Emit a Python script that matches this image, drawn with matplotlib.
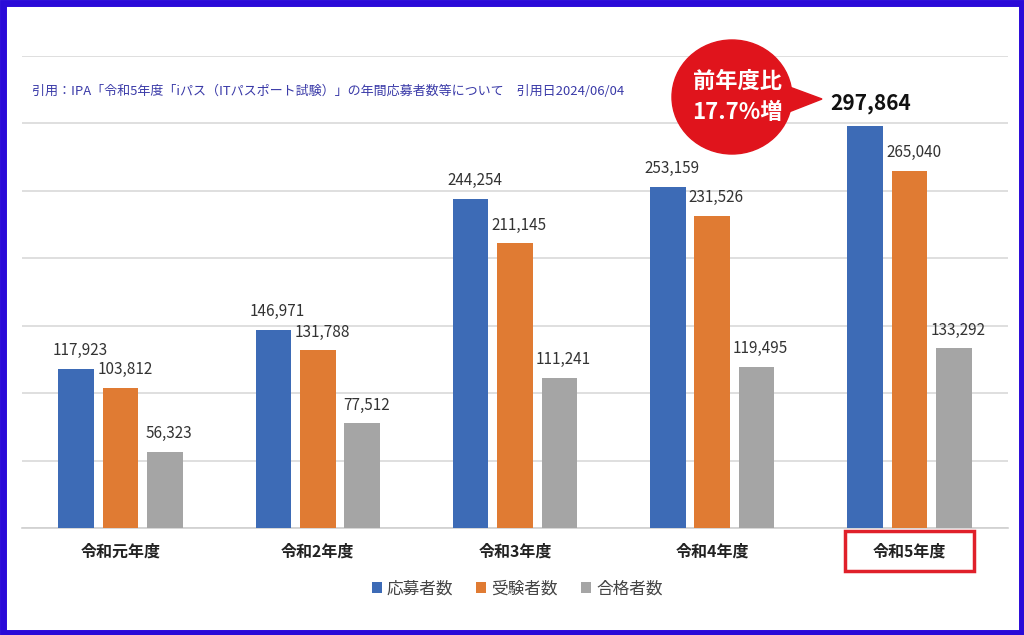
import matplotlib.pyplot as plt
import numpy as np
from matplotlib.patches import Ellipse, Polygon, Rectangle

plt.rcParams['font.family'] = ['Noto Sans CJK JP', 'DejaVu Sans']

# データ
years = ['令和元年度', '令和2年度', '令和3年度', '令和4年度', '令和5年度']
applicants = [117923, 146971, 244254, 253159, 297864]
examinees = [103812, 131788, 211145, 231526, 265040]
passed = [56323, 77512, 111241, 119495, 133292]
series_names = ['応募者数', '受験者数', '合格者数']
colors = ['#3d6bb6', '#e07b33', '#a5a5a5']
citation = '引用：IPA「令和5年度「iパス（ITパスポート試験）」の年間応募者数等について　引用日2024/06/04'
badge_text = '前年度比\n17.7%増'

fig = plt.figure(figsize=(10.24, 6.35), dpi=100)
ax = fig.add_axes([22 / 1024, 107 / 635, 986 / 1024, 472 / 635])

x = np.arange(len(years))
width = 0.18
step = 0.225
all_series = [applicants, examinees, passed]

for i, (vals, name, c) in enumerate(zip(all_series, series_names, colors)):
    pos = x + (i - 1) * step
    bars = ax.bar(pos, vals, width, color=c, label=name, zorder=3)
    for j, (b, v) in enumerate(zip(bars, vals)):
        # 令和5年度の応募者数だけ強調
        if i == 0 and j == len(years) - 1:
            ax.annotate(f'{v:,}', (b.get_x() + b.get_width() / 2, v),
                        xytext=(4, 9), textcoords='offset points',
                        ha='center', va='bottom', fontsize=15, fontweight='bold',
                        color='#111111')
        else:
            ax.annotate(f'{v:,}', (b.get_x() + b.get_width() / 2, v),
                        xytext=(3, 7), textcoords='offset points',
                        ha='center', va='bottom', fontsize=11, color='#333333')

ax.set_xlim(-0.5, len(years) - 0.5)
ax.set_ylim(0, 350000)
ax.set_yticks(np.arange(0, 350001, 50000))
ax.yaxis.grid(True, color='#d9d9d9', linewidth=1.2, zorder=0)
ax.tick_params(axis='y', length=0, labelleft=False)
ax.set_xticks(x)
ax.set_xticklabels(years, fontsize=11.5, fontweight='bold', color='#222222')
ax.tick_params(axis='x', length=0, pad=11)
for s in ['top', 'right', 'left']:
    ax.spines[s].set_visible(False)
ax.spines['bottom'].set_color('#d0d0d0')
ax.spines['bottom'].set_linewidth(1.2)

leg = fig.legend(loc='center', bbox_to_anchor=(0.505, (635 - 589) / 635), ncol=3,
                 frameon=False, fontsize=12, handlelength=0.6, handleheight=0.6,
                 handletextpad=0.3, columnspacing=1.4)
for t in leg.get_texts():
    t.set_color('#444444')

# 装飾用のオーバーレイ（ピクセル座標）
ov = fig.add_axes([0, 0, 1, 1], facecolor='none')
ov.set_xlim(0, 1024)
ov.set_ylim(635, 0)
ov.axis('off')

ov.text(32, 91, citation, fontsize=9.4, color='#3a3aa8', va='center', ha='left')

ov.add_patch(Polygon([[776, 82], [822, 99], [776, 117]], closed=True,
                     color='#e0141c', zorder=5))
ov.add_patch(Ellipse((732, 97), 120, 114, color='#e0141c', zorder=5))
ov.text(737, 97, badge_text, fontsize=16, fontweight='bold', color='white',
        ha='center', va='center', linespacing=1.45, zorder=6)

ov.add_patch(Rectangle((845, 531), 129, 40, fill=False, edgecolor='#e0202a',
                       linewidth=2.5, zorder=6))

ov.add_patch(Rectangle((2.5, 2.5), 1019, 630, fill=False, edgecolor='#2a0ad8',
                       linewidth=5, zorder=10))

fig.savefig('out.png', dpi=100, facecolor='white')
